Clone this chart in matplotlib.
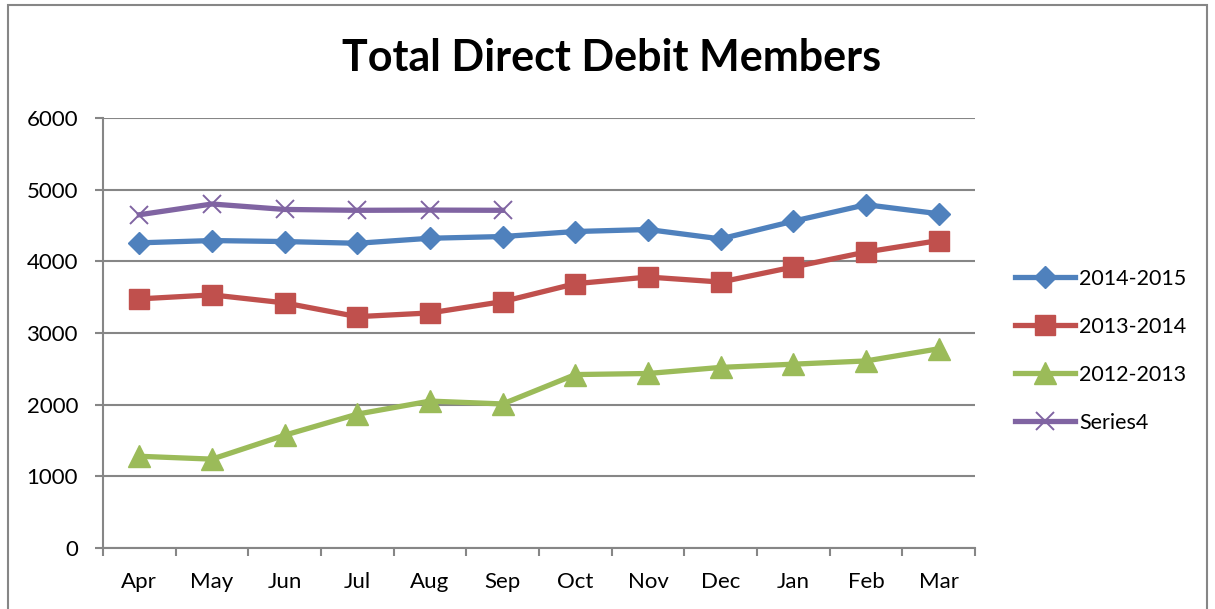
import matplotlib.pyplot as plt
from matplotlib.patches import Rectangle

# Monthly values
months = ["Apr", "May", "Jun", "Jul", "Aug", "Sep", "Oct", "Nov", "Dec", "Jan", "Feb", "Mar"]
fy_2014_15 = [4258, 4290, 4276, 4252, 4322, 4346, 4416, 4444, 4313, 4560, 4790, 4664]
fy_2013_14 = [3476, 3532, 3420, 3228, 3280, 3438, 3688, 3781, 3711, 3921, 4130, 4290]
fy_2012_13 = [1280, 1240, 1574, 1868, 2050, 2010, 2420, 2435, 2520, 2565, 2610, 2780]
series4 = [4650, 4800, 4724, 4712, 4715, 4712]

plt.rcParams["font.family"] = ["Lato", "DejaVu Sans"]

fig = plt.figure(figsize=(12.15, 6.09), dpi=100)
ax = fig.add_axes([103 / 1215, 1 - 548 / 609, 872 / 1215, 430 / 609])

# outer chart border
fig.patches.append(Rectangle((8 / 1215, -0.01), 1199 / 1215, 1 - 5 / 609 + 0.01,
                             transform=fig.transFigure, fill=False,
                             edgecolor="#868686", lw=1.5, zorder=0))

x = list(range(len(months)))
lw = 3.8
ax.plot(x, fy_2014_15, color="#4F81BD", lw=lw, marker="D", ms=11.5, label="2014-2015", zorder=3)
ax.plot(x, fy_2013_14, color="#C0504D", lw=lw, marker="s", ms=14, label="2013-2014", zorder=3)
ax.plot(x, fy_2012_13, color="#9BBB59", lw=lw, marker="^", ms=15.5, label="2012-2013", zorder=3)
ax.plot(x[:len(series4)], series4, color="#8064A2", lw=lw, marker="x", ms=13, mew=1.4,
        label="Series4", zorder=4)

ax.set_xlim(-0.5, 11.5)
ax.set_ylim(0, 6000)
ax.set_yticks(range(0, 6001, 1000))
ax.set_xticks(x)
ax.set_xticklabels(months)
ax.set_xticks([i - 0.5 for i in range(13)], minor=True)
ax.tick_params(axis="x", which="major", length=0, labelsize=16, pad=17)
ax.tick_params(axis="x", which="minor", length=6, color="#868686", width=1.5)
ax.tick_params(axis="y", length=6, color="#868686", width=1.5, labelsize=16, pad=12)

ax.grid(axis="y", color="#868686", lw=1.5)
ax.set_axisbelow(True)
for s in ["top", "right"]:
    ax.spines[s].set_visible(False)
for s in ["left", "bottom"]:
    ax.spines[s].set_color("#868686")
    ax.spines[s].set_linewidth(1.5)

fig.text(612 / 1215, 1 - 58 / 609, "Total Direct Debit Members", ha="center", va="center",
         fontsize=31, fontweight="bold")

fig.legend(loc="center left", bbox_to_anchor=(996 / 1215, 1 - 351 / 609), frameon=False,
           fontsize=15.5, handlelength=2.75, labelspacing=1.3, handletextpad=0.2)

fig.savefig("out.png", dpi=100)
